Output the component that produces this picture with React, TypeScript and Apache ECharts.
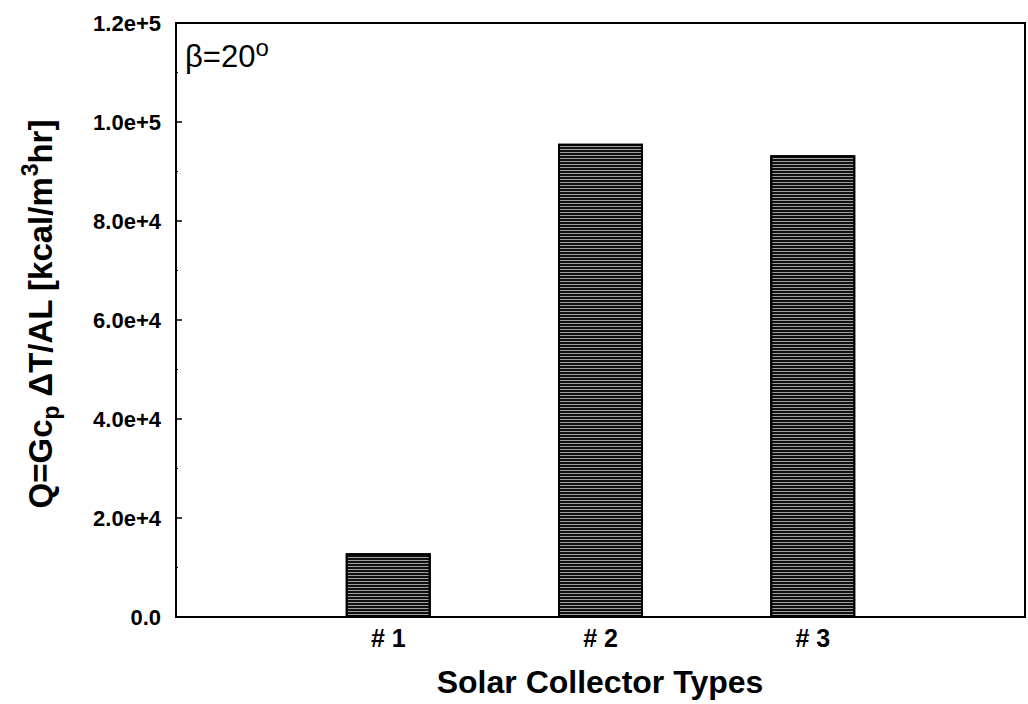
import React, { useEffect, useRef } from "react";
import * as echarts from "echarts";

const categories = ["", "# 1", "# 2", "# 3", ""];
const heatValues = [null, 12900, 95600, 93300, null];
const yTickLabels = ["0.0", "2.0e+4", "4.0e+4", "6.0e+4", "8.0e+4", "1.0e+5", "1.2e+5"];

const FONT = "'Liberation Sans', Arial, Helvetica, sans-serif";

export default function App() {
  const ref = useRef<HTMLDivElement>(null);
  useEffect(() => {
    if (!ref.current) return;
    const chart = echarts.init(ref.current, null, { renderer: "svg" });
    chart.setOption({
      animation: false,
      backgroundColor: "#fff",
      grid: {
        left: 176,
        right: 2,
        top: 23,
        bottom: 87,
        show: true,
        borderColor: "#000",
        borderWidth: 2,
      },
      xAxis: {
        type: "category",
        data: categories,
        boundaryGap: false,
        axisLine: { lineStyle: { color: "#000", width: 2 } },
        axisTick: { show: false },
        axisLabel: {
          color: "#000",
          fontFamily: FONT,
          fontWeight: "bold",
          fontSize: 25,
          margin: 8,
          interval: 0,
        },
        splitLine: { show: false },
      },
      yAxis: {
        type: "value",
        min: 0,
        max: 120000,
        interval: 20000,
        axisLine: { show: true, lineStyle: { color: "#000", width: 2 } },
        axisTick: { show: true, inside: true, length: 6, lineStyle: { color: "#000", width: 1.5 } },
        minorTick: { show: true, splitNumber: 2, length: 2, lineStyle: { color: "#000", width: 1 } },
        axisLabel: {
          color: "#000",
          fontFamily: FONT,
          fontWeight: "bold",
          fontSize: 22,
          margin: 15,
          formatter: (_v: number, i: number) => yTickLabels[i],
        },
        splitLine: { show: false },
      },
      series: [
        {
          type: "bar",
          data: heatValues,
          barWidth: 85,
          itemStyle: {
            color: "#a0a0a0",
            borderColor: "#000",
            borderWidth: 2,
            decal: {
              symbol: "rect",
              symbolSize: 1,
              dashArrayX: [1, 0],
              dashArrayY: [2, 1],
              rotation: 0,
              color: "#111",
            },
          },
        },
      ],
      graphic: [
        {
          type: "text",
          left: 185,
          top: 35,
          style: {
            text: "{m|β=20}{s|o}",
            fill: "#000",
            rich: {
              m: { fontFamily: FONT, fontSize: 31, lineHeight: 42, verticalAlign: "middle" },
              s: { fontFamily: FONT, fontSize: 24, lineHeight: 26, verticalAlign: "top" },
            },
          },
        },
        {
          type: "text",
          x: 600,
          y: 682,
          style: {
            text: "Solar Collector Types",
            fill: "#000",
            fontFamily: FONT,
            fontWeight: "bold",
            fontSize: 32,
            textAlign: "center",
            textVerticalAlign: "middle",
          },
        },
        {
          type: "text",
          x: 40,
          y: 314,
          rotation: Math.PI / 2,
          style: {
            text: "{m|Q=Gc}{b|p}{m| ΔT/AL [kcal/m}{t|3}{m|hr]}",
            fill: "#000",
            textAlign: "center",
            textVerticalAlign: "middle",
            rich: {
              m: { fontFamily: FONT, fontWeight: "bold", fontSize: 33, lineHeight: 44, verticalAlign: "middle" },
              b: { fontFamily: FONT, fontWeight: "bold", fontSize: 23, lineHeight: 23, verticalAlign: "bottom" },
              t: { fontFamily: FONT, fontWeight: "bold", fontSize: 23, lineHeight: 23, verticalAlign: "top" },
            },
          },
        },
      ],
    });
    return () => chart.dispose();
  }, []);
  return (
    <div
      ref={ref}
      style={{ position: "fixed", left: 0, top: 0, width: 1028, height: 704, background: "#fff" }}
    />
  );
}
